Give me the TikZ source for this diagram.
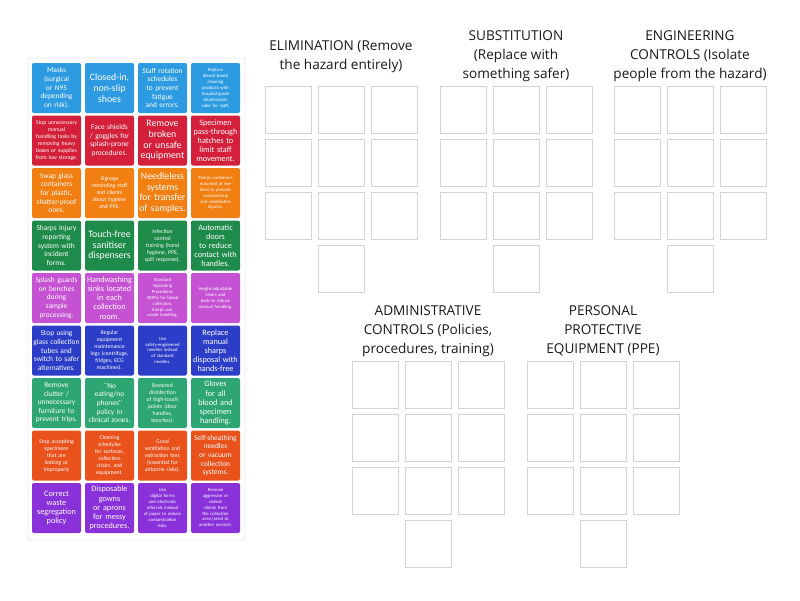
\documentclass[tikz,border=0pt]{standalone}
\usepackage{fontspec}
\setmainfont{Open Sans}
\newfontfamily\cardfont{Carlito}
\definecolor{sky}{HTML}{2D9BE2}
\definecolor{crimson}{HTML}{D4203B}
\definecolor{amber}{HTML}{F27F12}
\definecolor{forest}{HTML}{1F8B4B}
\definecolor{orchid}{HTML}{C452D2}
\definecolor{royal}{HTML}{2C3EC8}
\definecolor{teal}{HTML}{2EA673}
\definecolor{flame}{HTML}{EA521C}
\definecolor{violet}{HTML}{8A32DA}
\tikzset{
  card/.style={minimum width=49, minimum height=50, inner sep=0pt, text width=47,
    align=center, text=white, rounded corners=2pt},
  lg/.style={font=\cardfont\fontsize{9.8}{10.7}\selectfont},
  mdl/.style={font=\cardfont\fontsize{8.2}{9.1}\selectfont},
  md/.style={font=\cardfont\fontsize{7.4}{8.6}\selectfont},
  sm/.style={font=\cardfont\fontsize{5.7}{7}\selectfont},
  xs/.style={font=\cardfont\fontsize{4.7}{5.9}\selectfont},
  slot/.style={draw=black!17, line width=0.7pt, minimum width=46, minimum height=47, inner sep=0pt},
  head/.style={align=center, font=\fontsize{13.6}{18.8}\selectfont, text=black!90}
}
\begin{document}
\begin{tikzpicture}[x=1pt,y=-1pt]
  \useasboundingbox (0,0) rectangle (800,600);
  \fill[white] (0,0) rectangle (800,600);
  % card panel
  \draw[black!20, fill=white, rounded corners=2pt] (28,58) rectangle (245,540);

  \node[card, fill=sky, md] (c11) at (56.5,88) {Masks\\(surgical\\or N95\\depending\\on risk).};
  \node[card, fill=sky, lg] (c12) at (109.5,88) {Closed-in,\\non-slip\\shoes};
  \node[card, fill=sky, md] (c13) at (162.5,88) {Staff rotation\\schedules\\to prevent\\fatigue\\and errors.};
  \node[card, fill=sky, xs] (c14) at (215.5,88) {Replace\\bleach-based\\cleaning\\products with\\hospital-grade\\disinfectants\\safer for staff.};

  \node[card, fill=crimson, sm] (c21) at (56.5,140.5) {Stop unnecessary\\manual\\handling tasks by\\removing heavy\\boxes or supplies\\from low storage.};
  \node[card, fill=crimson, md] (c22) at (109.5,140.5) {Face shields\\/ goggles for\\splash-prone\\procedures.};
  \node[card, fill=crimson, lg] (c23) at (162.5,140.5) {Remove\\broken\\or unsafe\\equipment};
  \node[card, fill=crimson, mdl] (c24) at (215.5,140.5) {Specimen\\pass-through\\hatches to\\limit staff\\movement.};

  \node[card, fill=amber, md] (c31) at (56.5,193) {Swap glass\\containers\\for plastic,\\shatter-proof\\ones.};
  \node[card, fill=amber, sm] (c32) at (109.5,193) {Signage\\reminding staff\\and clients\\about hygiene\\and PPE.};
  \node[card, fill=amber, lg] (c33) at (162.5,193) {Needleless\\systems\\for transfer\\of samples.};
  \node[card, fill=amber, xs] (c34) at (215.5,193) {Sharps containers\\mounted at eye\\level to prevent\\overreaching\\and needlestick\\injuries.};

  \node[card, fill=forest, md] (c41) at (56.5,245.5) {Sharps injury\\reporting\\system with\\incident\\forms.};
  \node[card, fill=forest, lg] (c42) at (109.5,245.5) {Touch-free\\sanitiser\\dispensers};
  \node[card, fill=forest, sm] (c43) at (162.5,245.5) {Infection\\control\\training (hand\\hygiene, PPE,\\spill response).};
  \node[card, fill=forest, mdl] (c44) at (215.5,245.5) {Automatic\\doors\\to reduce\\contact with\\handles.};

  \node[card, fill=orchid, md] (c51) at (56.5,298) {Splash guards\\on benches\\during\\sample\\processing.};
  \node[card, fill=orchid, mdl] (c52) at (109.5,298) {Handwashing\\sinks located\\in each\\collection\\room.};
  \node[card, fill=orchid, xs] (c53) at (162.5,298) {Standard\\Operating\\Procedures\\(SOPs) for blood\\collection,\\sharps use,\\waste handling.};
  \node[card, fill=orchid, xs] (c54) at (215.5,298) {Height-adjustable\\chairs and\\beds to reduce\\manual handling.};

  \node[card, fill=royal, md] (c61) at (56.5,350.5) {Stop using\\glass collection\\tubes and\\switch to safer\\alternatives.};
  \node[card, fill=royal, sm] (c62) at (109.5,350.5) {Regular\\equipment\\maintenance\\logs (centrifuge,\\fridges, ECG\\machines).};
  \node[card, fill=royal, xs] (c63) at (162.5,350.5) {Use\\safety-engineered\\needles instead\\of standard\\needles.};
  \node[card, fill=royal, mdl] (c64) at (215.5,350.5) {Replace\\manual\\sharps\\disposal with\\hands-free};

  \node[card, fill=teal, md] (c71) at (56.5,403) {Remove\\clutter /\\unnecessary\\furniture to\\prevent trips.};
  \node[card, fill=teal, md] (c72) at (109.5,403) {``No\\eating/no\\phones''\\policy in\\clinical zones.};
  \node[card, fill=teal, sm] (c73) at (162.5,403) {Rostered\\disinfection\\of high-touch\\points (door\\handles,\\benches).};
  \node[card, fill=teal, mdl] (c74) at (215.5,403) {Gloves\\for all\\blood and\\specimen\\handling.};

  \node[card, fill=flame, sm] (c81) at (56.5,455.5) {Stop accepting\\specimens\\that are\\leaking or\\improperly};
  \node[card, fill=flame, sm] (c82) at (109.5,455.5) {Cleaning\\schedules\\for surfaces,\\collection\\chairs, and\\equipment.};
  \node[card, fill=flame, sm] (c83) at (162.5,455.5) {Good\\ventilation and\\extraction fans\\(essential for\\airborne risks).};
  \node[card, fill=flame, md] (c84) at (215.5,455.5) {Self-sheathing\\needles\\or vacuum\\collection\\systems.};

  \node[card, fill=violet, mdl] (c91) at (56.5,508) {Correct\\waste\\segregation\\policy};
  \node[card, fill=violet, mdl] (c92) at (109.5,508) {Disposable\\gowns\\or aprons\\for messy\\procedures.};
  \node[card, fill=violet, xs] (c93) at (162.5,508) {Use\\digital forms\\and electronic\\referrals instead\\of paper to reduce\\contamination\\risks.};
  \node[card, fill=violet, xs] (c94) at (215.5,508) {Remove\\aggressive or\\violent\\clients from\\the collection\\area (send to\\another service).};

  % headings
  \node[head] (elim) at (341,56.5) {ELIMINATION (Remove\\the hazard entirely)};
  \node[head] (subs) at (516,56.5) {SUBSTITUTION\\(Replace with\\something safer)};
  \node[head] (eng) at (690,56.5) {ENGINEERING\\CONTROLS (Isolate\\people from the hazard)};
  \node[head] (adm) at (428,331) {ADMINISTRATIVE\\CONTROLS (Policies,\\procedures, training)};
  \node[head] (ppe) at (603,331) {PERSONAL\\PROTECTIVE\\EQUIPMENT (PPE)};

  % drop slots
  \foreach \g/\gx/\gy in {elim/288/109.5, subs/463/109.5, eng/637/109.5, adm/375/384.5, ppe/550/384.5} {
    \foreach \i in {0,1,2}
      \foreach \j in {0,1,2}
        \node[slot] (\g-\i\j) at (\gx+53*\i,\gy+53*\j) {};
    \node[slot] (\g-x) at (\gx+53,\gy+159) {};
  }
\end{tikzpicture}
\end{document}
